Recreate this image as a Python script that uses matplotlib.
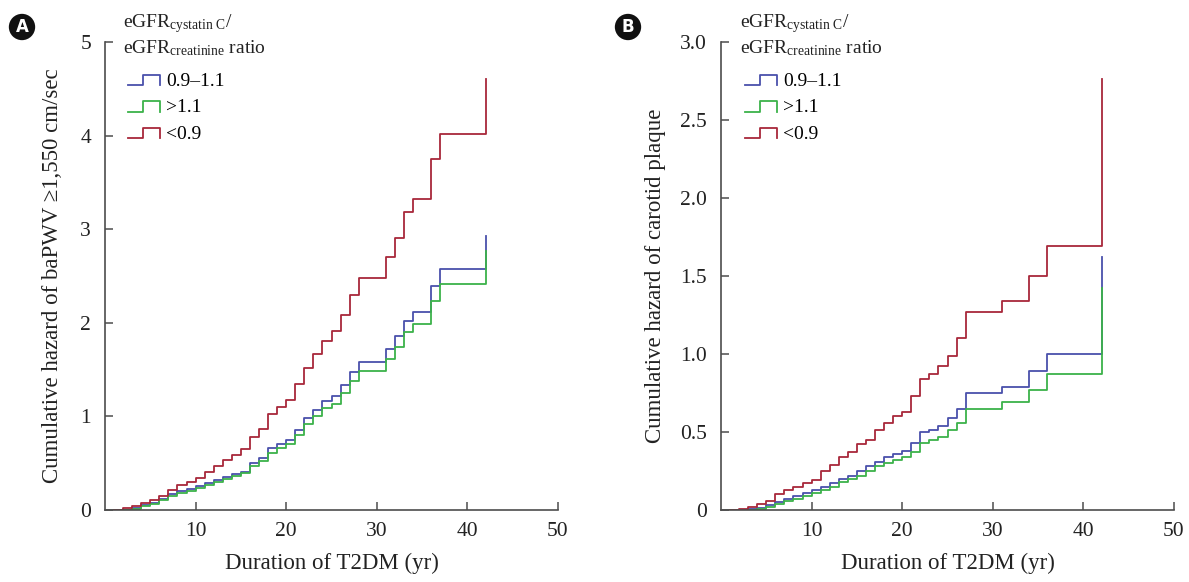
import numpy as np
import matplotlib
matplotlib.use("Agg")
import matplotlib.pyplot as plt
from matplotlib.lines import Line2D
from matplotlib.legend_handler import HandlerBase

plt.rcParams["font.family"] = ["Liberation Serif", "DejaVu Serif"]
plt.rcParams["mathtext.fontset"] = "custom"
plt.rcParams["mathtext.rm"] = "Liberation Serif"
plt.rcParams["mathtext.it"] = "Liberation Serif:italic"

# ---- data ----
GROUPS = ["0.9\u20131.1", ">1.1", "<0.9"]
COLORS = ["#4a50ab", "#3cb24a", "#a8283a"]

# panel A: baPWV >= 1,550 cm/sec
t_a = [1, 2, 3, 4, 5, 6, 7, 8, 9, 10, 11, 12, 13, 14, 15, 16, 17, 18, 19, 20,
       21, 22, 23, 24, 25, 26, 27, 28, 31, 32, 33, 34, 36, 37, 42]
h_a_mid = [0, 0.005, 0.02, 0.05, 0.08, 0.12, 0.17, 0.20, 0.22, 0.26, 0.29, 0.32,
           0.35, 0.38, 0.41, 0.50, 0.56, 0.66, 0.71, 0.75, 0.86, 0.98, 1.07, 1.16,
           1.22, 1.34, 1.47, 1.58, 1.72, 1.86, 2.02, 2.12, 2.39, 2.57, 2.93]
h_a_high = [0, 0.005, 0.015, 0.04, 0.06, 0.11, 0.15, 0.18, 0.20, 0.24, 0.27, 0.30,
            0.33, 0.36, 0.39, 0.47, 0.52, 0.61, 0.66, 0.70, 0.80, 0.92, 1.00, 1.09,
            1.13, 1.25, 1.38, 1.48, 1.61, 1.74, 1.90, 1.99, 2.23, 2.41, 2.77]
h_a_low = [0, 0.02, 0.04, 0.07, 0.11, 0.15, 0.21, 0.27, 0.30, 0.34, 0.41, 0.47,
           0.53, 0.59, 0.65, 0.78, 0.87, 1.03, 1.10, 1.18, 1.35, 1.52, 1.67, 1.81,
           1.91, 2.08, 2.30, 2.48, 2.70, 2.91, 3.18, 3.32, 3.75, 4.02, 4.60]

# panel B: carotid plaque
t_b = [1, 2, 3, 4, 5, 6, 7, 8, 9, 10, 11, 12, 13, 14, 15, 16, 17, 18, 19, 20,
       21, 22, 23, 24, 25, 26, 27, 31, 34, 36, 42]
h_b_mid = [0, 0, 0.005, 0.01, 0.03, 0.05, 0.07, 0.09, 0.11, 0.13, 0.15, 0.17,
           0.20, 0.22, 0.25, 0.28, 0.31, 0.34, 0.36, 0.38, 0.43, 0.50, 0.51, 0.54,
           0.59, 0.65, 0.75, 0.79, 0.89, 1.00, 1.62]
h_b_high = [0, 0, 0, 0.005, 0.02, 0.04, 0.06, 0.07, 0.09, 0.11, 0.13, 0.15,
            0.18, 0.20, 0.22, 0.25, 0.28, 0.30, 0.32, 0.34, 0.37, 0.43, 0.45, 0.47,
            0.51, 0.56, 0.65, 0.69, 0.77, 0.87, 1.42]
h_b_low = [0, 0.005, 0.02, 0.04, 0.06, 0.10, 0.13, 0.15, 0.17, 0.19, 0.25, 0.29,
           0.34, 0.37, 0.42, 0.45, 0.51, 0.56, 0.60, 0.63, 0.73, 0.84, 0.87, 0.92,
           0.99, 1.10, 1.27, 1.34, 1.50, 1.69, 2.76]

W, H = 1189, 582
SPINE = "#4d4d4d"
TXT = "#222222"


class StepHandler(HandlerBase):
    def create_artists(self, legend, orig, xd, yd, width, height, fontsize, trans):
        x0, x1 = -xd, -xd + width
        xm = x0 + 0.47 * width
        lo, hi = -yd + 0.0 * height, -yd + 0.85 * height
        ln = Line2D([x0, xm, xm, x1, x1], [lo, lo, hi, hi, lo],
                    color=orig.get_color(), lw=1.3, transform=trans)
        return [ln]


def px(x, y):
    return x / W, 1 - y / H


def panel(left, t, series, ymax, yticks, ylabels, ylabel, letter, lx, title_x, ylab_x):
    right, top, bottom = left + 453, 42, 510
    ax = fig.add_axes([left / W, 1 - bottom / H, (right - left) / W, (bottom - top) / H])
    handles = []
    for h, c, g in zip(series, COLORS, GROUPS):
        ln, = ax.step(t, h, where="post", color=c, lw=1.3, label=g)
        handles.append(ln)
    ax.set_xlim(0, 50)
    ax.set_ylim(0, ymax)
    ax.set_xticks([10, 20, 30, 40, 50])
    ax.set_yticks(yticks)
    ax.set_yticklabels(ylabels)
    for s in ["top", "right"]:
        ax.spines[s].set_visible(False)
    for s in ["left", "bottom"]:
        ax.spines[s].set_color(SPINE)
        ax.spines[s].set_linewidth(1.2)
    ax.tick_params(direction="in", length=6, width=1.1, color=SPINE,
                   labelsize=15.5, labelcolor=TXT)
    ax.tick_params(axis="y", pad=10)
    ax.tick_params(axis="x", pad=9)

    # axis titles, centred where the reference puts them
    fig.text(*px((left + right) / 2, 563), "Duration of T2DM (yr)", fontsize=16.5,
             color=TXT, ha="center", va="center")
    fig.text(*px(ylab_x, (top + bottom) / 2), ylabel, fontsize=16.5, color=TXT,
             ha="center", va="center", rotation=90)

    fig.text(*px(title_x, 24), r"eGFR$_{\mathregular{cystatin\ C}}$/", fontsize=14,
             va="center", ha="left", color=TXT)
    fig.text(*px(title_x, 48), r"eGFR$_{\mathregular{creatinine}}$ ratio", fontsize=14,
             va="center", ha="left", color=TXT)
    ax.legend(handles=handles, handler_map={Line2D: StepHandler()},
              loc="upper left", bbox_to_anchor=px(title_x + 5, 73),
              bbox_transform=fig.transFigure, frameon=False, fontsize=14,
              handlelength=1.65, handleheight=0.6, handletextpad=0.3,
              labelspacing=0.48, borderpad=0, borderaxespad=0)

    fig.text(*px(lx, 27), letter, fontsize=12, fontweight="bold", family="DejaVu Sans",
             color="white", ha="center", va="center",
             bbox=dict(boxstyle="circle,pad=0.25", fc="#111111", ec="none"))
    return ax


fig = plt.figure(figsize=(W / 100, H / 100), dpi=100)

panel(105, t_a, [h_a_mid, h_a_high, h_a_low],
      5, [0, 1, 2, 3, 4, 5], ["0", "1", "2", "3", "4", "5"],
      "Cumulative hazard of baPWV \u22651,550 cm/sec", "A", 22, 123, 53)

panel(721, t_b, [h_b_mid, h_b_high, h_b_low],
      3, [0, 0.5, 1, 1.5, 2, 2.5, 3], ["0", "0.5", "1.0", "1.5", "2.0", "2.5", "3.0"],
      "Cumulative hazard of carotid plaque", "B", 628, 740, 656)

fig.savefig("out.png", dpi=100)
